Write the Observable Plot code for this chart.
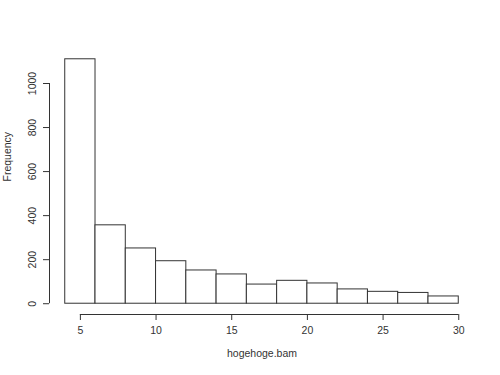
<!DOCTYPE html>
<html><head><meta charset="utf-8">
<script src="https://cdn.jsdelivr.net/npm/d3@7"></script>
<script src="https://cdn.jsdelivr.net/npm/@observablehq/plot@0.6"></script>
<style>body{margin:0;background:#fff}</style>
</head><body><div id="chart"></div>
<script>
const binStarts = [4, 6, 8, 10, 12, 14, 16, 18, 20, 22, 24, 26, 28];
const binWidth = 2;
const counts = [1110, 356, 251, 193, 151, 133, 87, 104, 92, 65, 54, 49, 33];
const xTicks = [5, 10, 15, 20, 25, 30];
const yTicks = [0, 200, 400, 600, 800, 1000];
const xTitle = "hogehoge.bam";
const yTitle = "Frequency";

const bins = binStarts.map((s, i) => ({x1: s, x2: s + binWidth, count: counts[i]}));
const xMin = binStarts[0], xMax = binStarts[binStarts.length - 1] + binWidth;
const xPad = 0.04 * (xMax - xMin);
const yMax = d3.max(counts);
const xDomain = [xMin - xPad, xMax + xPad];
const yDomain = [-0.04 * yMax, yMax * 1.04];
const ink = "#333";
const font = "'Liberation Sans', Arial, Helvetica, sans-serif";

const chart = Plot.plot({
  width: 500,
  height: 375,
  marginLeft: 49,
  marginRight: 26,
  marginTop: 49,
  marginBottom: 62,
  style: {fontFamily: font, fontSize: "10.5px", color: ink, background: "#fff"},
  x: {domain: xDomain},
  y: {domain: yDomain},
  marks: [
    Plot.rectY(bins, {x1: "x1", x2: "x2", y1: 0, y2: "count", fill: "white", stroke: ink, strokeWidth: 1}),
    // x axis
    Plot.ruleY([yDomain[0]], {x1: xTicks[0], x2: xTicks[xTicks.length - 1], stroke: ink, dy: 1}),
    Plot.axisX({ticks: xTicks, tickSize: 6, tickPadding: 6, label: null, stroke: ink, fill: ink, dy: 1}),
    // y axis
    Plot.ruleX([xDomain[0]], {y1: yTicks[0], y2: yTicks[yTicks.length - 1], stroke: ink}),
    Plot.axisY({ticks: yTicks, tickSize: 6, tickFormat: () => "", label: null, stroke: ink}),
    Plot.text(yTicks, {y: d => d, text: d => String(d), frameAnchor: "left", dx: -17, rotate: -90, textAnchor: "middle", fill: ink}),
    // titles
    Plot.text([xTitle], {frameAnchor: "bottom", dy: 43, fill: ink}),
    Plot.text([yTitle], {frameAnchor: "left", dx: -42, rotate: -90, fill: ink})
  ]
});
document.getElementById("chart").appendChild(chart);
</script>
</body></html>
